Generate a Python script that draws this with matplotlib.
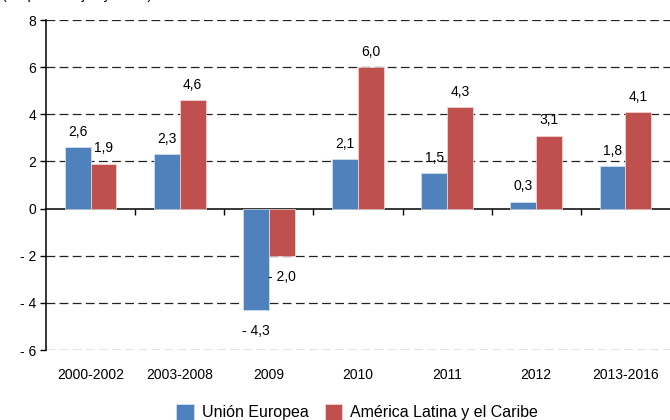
import numpy as np
import matplotlib
matplotlib.use("Agg")
from matplotlib import pyplot as plt
from matplotlib import transforms

plt.rcParams['font.family'] = ['Liberation Sans', 'DejaVu Sans']
plt.rcParams['font.size'] = 10

categories = ['2000-2002', '2003-2008', '2009', '2010', '2011', '2012', '2013-2016']
ue = [2.6, 2.3, -4.3, 2.1, 1.5, 0.3, 1.8]
alc = [1.9, 4.6, -2.0, 6.0, 4.3, 3.1, 4.1]
series_names = ['Unión Europea', 'América Latina y el Caribe']
yticks = [-6, -4, -2, 0, 2, 4, 6, 8]
ytick_labels = ['- 6', '- 4', '- 2', '0', '2', '4', '6', '8']

blue = '#4F81BD'
red = '#C0504D'

def fmt(v):
    s = ('%.1f' % abs(v)).replace('.', ',')
    return '- ' + s if v < 0 else s

fig = plt.figure(figsize=(6.7, 4.2), dpi=100)
ax = fig.add_axes([46/670, 1 - 350/420, 1 - 46/670, 330/420])

x = np.arange(len(categories))
w = 0.29
b1 = ax.bar(x - w/2, ue, w, color=blue, edgecolor='#dbe5f1', linewidth=0.5, label=series_names[0], zorder=3)
b2 = ax.bar(x + w/2, alc, w, color=red, edgecolor='#f2dcdb', linewidth=0.5, label=series_names[1], zorder=3)

for bars, vals in [(b1, ue), (b2, alc)]:
    for r, v in zip(bars, vals):
        cx = r.get_x() + r.get_width() / 2
        if v >= 0:
            ax.annotate(fmt(v), (cx, v), xytext=(0, 6), textcoords='offset points',
                        ha='center', va='bottom', fontsize=10)
        else:
            ax.annotate(fmt(v), (cx, v), xytext=(0, -10), textcoords='offset points',
                        ha='center', va='top', fontsize=10)

ax.set_xlim(-0.5, len(categories) - 0.5)
ax.set_ylim(-6, 8)
ax.set_yticks(yticks)
ax.set_yticklabels(ytick_labels)
for y in yticks:
    if y != 0:
        ax.axhline(y, color='#222222', lw=0.9, dashes=(7, 3.5), zorder=1)

ax.spines['top'].set_visible(False)
ax.spines['right'].set_visible(False)
ax.spines['bottom'].set_position(('data', 0))
ax.spines['bottom'].set_linewidth(1.1)
ax.spines['left'].set_linewidth(1.1)
ax.set_xticks(np.arange(len(categories) - 1) + 0.5)
ax.set_xticklabels([])
ax.tick_params(axis='x', length=4, width=1, direction='out')
ax.tick_params(axis='y', length=4, width=1, direction='out', pad=3)

trans = transforms.blended_transform_factory(ax.transData, ax.transAxes)
for xi, c in zip(x, categories):
    ax.text(xi, -0.076, c, transform=trans, ha='center', va='center', fontsize=10)

# title line sits mostly above the visible area, as in the source crop
fig.text(0.003, 1 - 2/420, '(En porcentajes y tasas)', ha='left', va='bottom', fontsize=10)

fig.legend(handles=[b1, b2], labels=series_names, loc='center', bbox_to_anchor=(0.533, 0.018),
           ncol=2, frameon=False, fontsize=11.5, handlelength=1.1, handleheight=1.1,
           handletextpad=0.5, columnspacing=1.0)

fig.savefig('out.png', dpi=100)
